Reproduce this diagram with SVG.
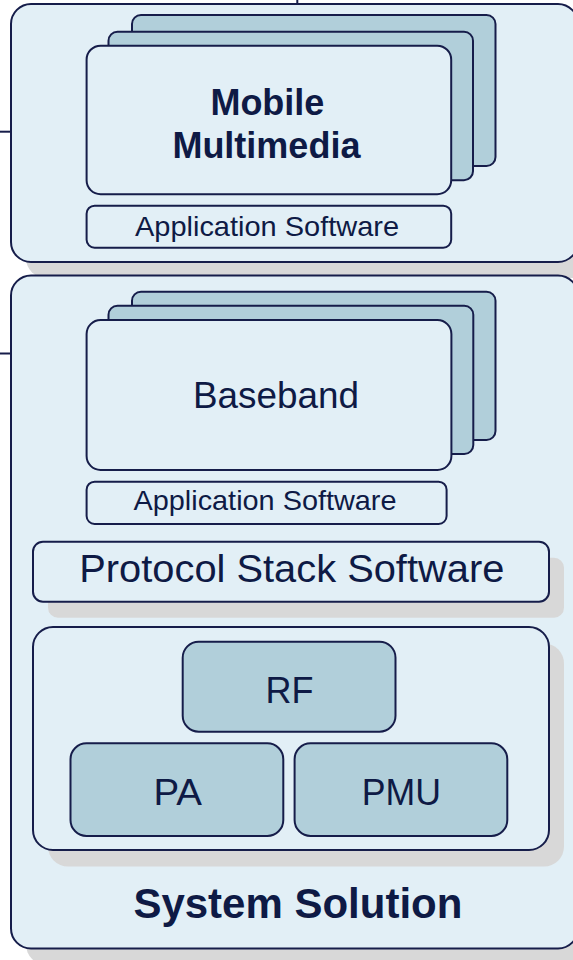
<svg xmlns="http://www.w3.org/2000/svg" width="573" height="960" viewBox="0 0 573 960">
<style>
.box{fill:#e2eff6;stroke:#161d4a;stroke-width:2}
.stk{fill:#b1cfda;stroke:#161d4a;stroke-width:2}
.shd{fill:#d8d8d8;stroke:none}
.t{font-family:"Liberation Sans",Arial,sans-serif;fill:#0e1a45;text-anchor:middle}
.b{font-weight:bold}
.conn{stroke:#161d4a;stroke-width:2;fill:none}
</style>
<rect width="573" height="960" fill="#ffffff"/>
<g id="connectors">
<line class="conn" x1="297.3" y1="0" x2="297.3" y2="4"/>
<line class="conn" x1="0" y1="131.7" x2="11" y2="131.7"/>
<line class="conn" x1="0" y1="353.5" x2="11" y2="353.5"/>
</g>
<g id="mobile-multimedia-group">
<rect class="shd" x="26" y="20" width="567" height="258" rx="20"/>
<rect class="box" x="11" y="4" width="567" height="258" rx="20"/>
<g id="mm-stack">
<rect class="stk" x="132" y="15" width="363.5" height="151" rx="9"/>
<rect class="stk" x="108.5" y="31.7" width="364.5" height="148.5" rx="9"/>
<rect class="box" x="86.6" y="45.7" width="364.6" height="148.5" rx="14"/>
<text class="t b" x="267.4" y="115" font-size="36">Mobile</text>
<text class="t b" x="266.4" y="158" font-size="36">Multimedia</text>
</g>
<g id="mm-app-software">
<rect class="box" x="86.6" y="205.7" width="364.6" height="42" rx="8"/>
<text class="t" x="267" y="235.7" font-size="28.5" textLength="264" lengthAdjust="spacingAndGlyphs">Application Software</text>
</g>
</g>
<g id="system-solution">
<rect class="shd" x="26" y="291.5" width="567" height="673" rx="20"/>
<rect class="box" x="11" y="275.5" width="567" height="673" rx="20"/>
<g id="baseband-stack">
<rect class="stk" x="132" y="291.7" width="363.5" height="148.3" rx="9"/>
<rect class="stk" x="108.5" y="305.7" width="364.8" height="148.3" rx="9"/>
<rect class="box" x="86.6" y="320" width="364.8" height="150" rx="14"/>
<text class="t" x="276" y="408.3" font-size="36.5" textLength="166" lengthAdjust="spacingAndGlyphs">Baseband</text>
</g>
<g id="bb-app-software">
<rect class="box" x="86.6" y="481.7" width="360" height="42.3" rx="8"/>
<text class="t" x="265" y="510" font-size="28.5" textLength="263" lengthAdjust="spacingAndGlyphs">Application Software</text>
</g>
<g id="protocol-stack">
<rect class="shd" x="48" y="557.7" width="516" height="60" rx="10"/>
<rect class="box" x="33" y="541.7" width="516" height="60" rx="10"/>
<text class="t" x="291.8" y="581.7" font-size="38" textLength="425" lengthAdjust="spacingAndGlyphs">Protocol Stack Software</text>
</g>
<g id="hardware">
<rect class="shd" x="48" y="643.5" width="516" height="223" rx="20"/>
<rect class="box" x="33" y="627" width="516" height="223" rx="20"/>
</g>
<g id="rf">
<rect class="stk" x="182.7" y="641.7" width="212.8" height="90" rx="16"/>
<text class="t" x="289.6" y="702.7" font-size="37" textLength="48" lengthAdjust="spacingAndGlyphs">RF</text>
</g>
<g id="pa">
<rect class="stk" x="70.5" y="743.3" width="212.8" height="92.7" rx="16"/>
<text class="t" x="177.8" y="805" font-size="37" textLength="48.5" lengthAdjust="spacingAndGlyphs">PA</text>
</g>
<g id="pmu">
<rect class="stk" x="294.6" y="743.3" width="212.7" height="92.7" rx="16"/>
<text class="t" x="401.4" y="805" font-size="37" textLength="79.3" lengthAdjust="spacingAndGlyphs">PMU</text>
</g>
<text class="t b" x="297.9" y="918.3" font-size="42" textLength="329" lengthAdjust="spacingAndGlyphs">System Solution</text>
</g>
</svg>
